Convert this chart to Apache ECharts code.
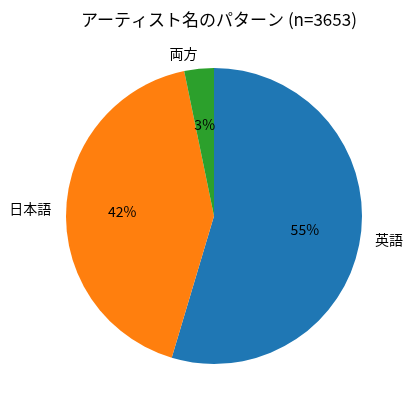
<!DOCTYPE html>
<html><head><meta charset="utf-8">
<script src="https://cdn.jsdelivr.net/npm/echarts@6/dist/echarts.min.js"></script>
<style>html,body{margin:0;padding:0;background:#fff}#c{width:412px;height:411px}</style>
</head><body><div id="c"></div>
<script>
const categories = ['英語', '日本語', '両方'];
const counts = [1995, 1540, 118];
const colors = ['#1f77b4', '#ff7f0e', '#2ca02c'];
const titleText = 'アーティスト名のパターン (n=3653)';

const FONT = "'Noto Sans CJK JP', 'DejaVu Sans', sans-serif";
const R = 148;
const center = [214, 216];
const data = categories.map((c, i) => ({ name: c, value: counts[i], itemStyle: { color: colors[i] } }));
const chart = echarts.init(document.getElementById('c'), null, { renderer: 'canvas' });
chart.setOption({
  animation: false,
  backgroundColor: '#fff',
  title: {
    text: titleText, left: 214, top: 6, textAlign: 'center',
    textStyle: { fontFamily: FONT, fontSize: 17, fontWeight: 'normal', color: '#000' }
  },
  series: [
    {
      type: 'pie', center: center, radius: [0, R], startAngle: 90, clockwise: true,
      avoidLabelOverlap: false, silent: true,
      itemStyle: { borderWidth: 0 },
      label: {
        show: true, position: 'outside', formatter: '{b}',
        fontFamily: FONT, fontSize: 14, color: '#000', distanceToLabelLine: 0
      },
      labelLine: { show: false, length: 0.1 * R, length2: 0 },
      data: data
    },
    {
      type: 'pie', center: center, radius: [0.2 * R, R], startAngle: 90, clockwise: true,
      avoidLabelOverlap: false, silent: true,
      itemStyle: { color: 'rgba(0,0,0,0)', borderWidth: 0 },
      label: {
        show: true, position: 'inside',
        formatter: p => Math.round(p.percent) + '%',
        fontFamily: FONT, fontSize: 14, color: '#000'
      },
      labelLine: { show: false },
      data: categories.map((c, i) => ({ name: c, value: counts[i] }))
    }
  ]
});
</script></body></html>
